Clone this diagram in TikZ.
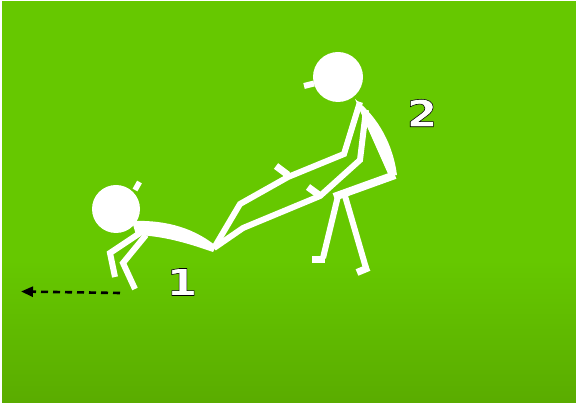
\documentclass[tikz,border=0pt]{standalone}
\usepackage{fontspec}
\newfontfamily\digitfont{DejaVu Sans Bold}[FakeStretch=1.18,FakeBold=1.5]
\usetikzlibrary{arrows.meta}
\definecolor{field}{RGB}{102,200,0}
\definecolor{fielddeep}{RGB}{90,172,0}

% white digit whose glyph outline is stroked in black
\newcommand\outlinedigit[1]{{\color{white}\special{pdf:code 0 0 0 RG}#1}}

\begin{document}
\begin{tikzpicture}[x=1pt,y=-1pt,
  limb/.style={white,line width=6pt,line join=miter},
  stub/.style={white,line width=7pt},
  thigh/.style={white,line width=8pt},
  digit/.style={inner sep=0pt,font=\digitfont\fontsize{37}{37}\selectfont},
  pull/.style={black,line width=2.6pt,dash pattern=on 7pt off 5pt,
    -{Triangle[length=12pt,width=10pt]}}]

\useasboundingbox (0,0) rectangle (576,403);

% field
\fill[field] (2,1) rectangle (576,403);
\shade[top color=field,bottom color=fielddeep,draw=none] (2,260) rectangle (576,403);

% ---------- person 1 (being pulled) ----------
\coordinate (hA) at (116,209);
\fill[white] (hA) circle[radius=24pt];
\draw[white,line width=5.5pt] (135,190) -- (139.5,182);
% back stretched towards the hands
\fill[white] (132,221) .. controls (160,220) and (190,225) .. (216,246)
  -- (213,252) .. controls (190,244) and (165,236) .. (136,235) -- cycle;
% legs
\draw[limb] (140,233) -- (110,253) -- (115,277);
\draw[limb] (146,235) -- (123,263) -- (135,289);

% ---------- person 2 (pulling) ----------
\coordinate (hB) at (338,77);
\fill[white] (hB) circle[radius=25pt];
\draw[white,line width=6pt] (304,86) -- (314,83.5);
% torso wedge
\fill[white] (355,99) .. controls (379,118) and (393,145) .. (397,175)
  -- (389,176) -- (361,113) -- cycle;
% arms reaching down to the joined hands
\coordinate (grip) at (214,248);
\draw[limb] (360,102) -- (344,154) -- (288,177) -- (240,204) -- (grip);
\draw[limb] (366,110) -- (360,160) -- (320,196) -- (243,228) -- (grip);
\draw[stub] (276,166) -- (288,175);
\draw[stub] (308,187) -- (319,195);
% thigh and legs
\draw[thigh] (395,175) -- (334,197);
\draw[limb] (338,196) -- (323,258);
\draw[stub] (312,260) -- (325,260);
\draw[limb] (345,196) -- (366,268);
\draw[stub] (357,272.5) -- (369,267.5);

% ---------- direction of the pull ----------
\coordinate (pullstart) at (120,293);
\coordinate (pullend) at (21,291.5);
\draw[pull] (pullstart) -- (pullend);

% ---------- labels ----------
\node[digit] (num1) at (182,282) {\outlinedigit{1}};
\node[digit] (num2) at (422,113) {\outlinedigit{2}};
\end{tikzpicture}
\end{document}
